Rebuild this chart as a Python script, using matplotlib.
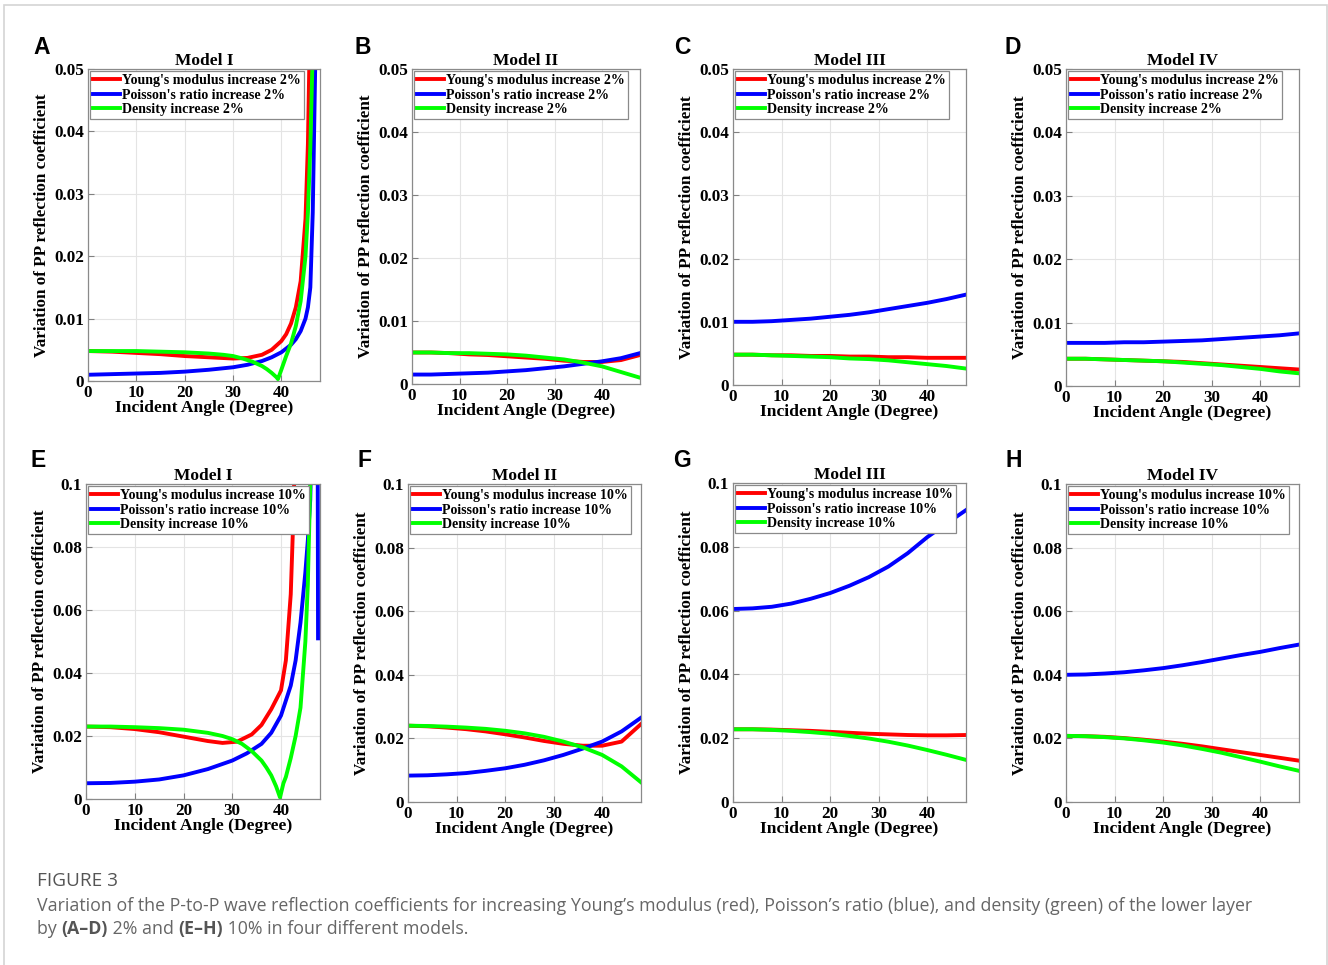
import matplotlib
matplotlib.use("Agg")
import matplotlib.pyplot as plt
from matplotlib.patches import Rectangle
from matplotlib.ticker import FuncFormatter

# ---- data ----
ang = [0, 4, 8, 12, 16, 20, 24, 28, 32, 36, 40, 44, 48]

# Model I, 2%
a_red_x = [0, 5, 10, 15, 20, 25, 30, 33, 36, 38, 40, 41, 42, 43, 44, 45, 45.5, 46, 46.5]
a_red = [0.0048, 0.0047, 0.0045, 0.0043, 0.0040, 0.0038, 0.0036, 0.0037, 0.0042, 0.0050,
         0.0064, 0.0075, 0.0092, 0.0118, 0.0160, 0.0260, 0.0380, 0.060, 0.09]
a_blue_x = [0, 5, 10, 15, 20, 25, 30, 33, 36, 38, 40, 42, 43, 44, 45, 45.5, 46, 46.5, 47, 47.5]
a_blue = [0.0010, 0.0011, 0.0012, 0.0013, 0.0015, 0.0018, 0.0022, 0.0026, 0.0032, 0.0038,
          0.0046, 0.0058, 0.0067, 0.0080, 0.0100, 0.0118, 0.0150, 0.0270, 0.050, 0.08]
a_green_x = [0, 5, 10, 15, 20, 25, 28, 30, 32, 34, 36, 37, 38, 39, 39.3, 40, 41, 42, 43, 44,
             45, 45.5, 46, 46.5]
a_green = [0.0048, 0.0048, 0.0048, 0.0047, 0.0046, 0.0044, 0.0042, 0.0040, 0.0036, 0.0031,
           0.0024, 0.0019, 0.0013, 0.0006, 0.0003, 0.0018, 0.0040, 0.0060, 0.0088, 0.0128,
           0.0200, 0.0270, 0.0376, 0.053]

# Model II, 2%
b_red = [0.0050, 0.0050, 0.0049, 0.0047, 0.0046, 0.0044, 0.0042, 0.0040, 0.0037, 0.0035, 0.0035, 0.0038, 0.0046]
b_blue = [0.0015, 0.0015, 0.0016, 0.0017, 0.0018, 0.0020, 0.0022, 0.0025, 0.0028, 0.0032, 0.0036, 0.0041, 0.0049]
b_green = [0.0050, 0.0050, 0.0049, 0.0049, 0.0048, 0.0047, 0.0045, 0.0042, 0.0039, 0.0034, 0.0028, 0.0019, 0.0010]

# Model III, 2%
c_red = [0.0048, 0.0048, 0.0047, 0.0047, 0.0046, 0.0046, 0.0045, 0.0045, 0.0044, 0.0044, 0.0043, 0.0043, 0.0043]
c_blue = [0.0100, 0.0100, 0.0101, 0.0103, 0.0105, 0.0108, 0.0111, 0.0115, 0.0120, 0.0125, 0.0130, 0.0136, 0.0143]
c_green = [0.0048, 0.0048, 0.0047, 0.0046, 0.0045, 0.0044, 0.0042, 0.0041, 0.0039, 0.0036, 0.0033, 0.0030, 0.0026]

# Model IV, 2%
d_red = [0.0043, 0.0043, 0.0042, 0.0041, 0.0040, 0.0039, 0.0038, 0.0036, 0.0034, 0.0032, 0.0030, 0.0028, 0.0026]
d_blue = [0.0068, 0.0068, 0.0068, 0.0069, 0.0069, 0.0070, 0.0071, 0.0072, 0.0074, 0.0076, 0.0078, 0.0080, 0.0083]
d_green = [0.0043, 0.0043, 0.0042, 0.0041, 0.0040, 0.0039, 0.0037, 0.0035, 0.0033, 0.0030, 0.0027, 0.0023, 0.0020]

# Model I, 10%
e_red_x = [0, 5, 10, 15, 20, 25, 28, 31, 34, 36, 38, 39, 40, 41, 42, 42.5, 43, 43.5]
e_red = [0.0230, 0.0228, 0.0222, 0.0212, 0.0198, 0.0184, 0.0178, 0.0182, 0.0205, 0.0235,
         0.0285, 0.0315, 0.0345, 0.0440, 0.0650, 0.0880, 0.1200, 0.16]
e_blue_x = [0, 5, 10, 15, 20, 25, 30, 33, 36, 38, 40, 42, 43, 44, 45, 45.5, 46, 46.5, 47.5, 47.6]
e_blue = [0.0050, 0.0051, 0.0055, 0.0062, 0.0075, 0.0095, 0.0122, 0.0145, 0.0175, 0.0210,
          0.0265, 0.0360, 0.0440, 0.0560, 0.0720, 0.0820, 0.0950, 0.1300, 0.1300, 0.0510]
e_green_x = [0, 5, 10, 15, 20, 25, 28, 30, 32, 34, 36, 37, 38, 39, 39.8, 40.5, 41, 42, 43, 44,
             45, 45.5, 46, 46.5]
e_green = [0.0230, 0.0230, 0.0228, 0.0225, 0.0220, 0.0210, 0.0200, 0.0190, 0.0175, 0.0152,
           0.0122, 0.0100, 0.0075, 0.0040, 0.0005, 0.0050, 0.0070, 0.0130, 0.0200, 0.0290,
           0.0500, 0.0680, 0.1000, 0.14]

# Model II, 10%
f_red = [0.0240, 0.0238, 0.0234, 0.0229, 0.0222, 0.0213, 0.0203, 0.0192, 0.0183, 0.0177, 0.0177, 0.0190, 0.0245]
f_blue = [0.0083, 0.0084, 0.0087, 0.0091, 0.0098, 0.0106, 0.0117, 0.0131, 0.0148, 0.0168, 0.0190, 0.0222, 0.0265]
f_green = [0.0240, 0.0239, 0.0237, 0.0234, 0.0230, 0.0224, 0.0216, 0.0205, 0.0190, 0.0172, 0.0148, 0.0112, 0.0062]

# Model III, 10%
g_red = [0.0228, 0.0228, 0.0227, 0.0225, 0.0223, 0.0220, 0.0217, 0.0214, 0.0212, 0.0210, 0.0209, 0.0209, 0.0210]
g_blue = [0.0605, 0.0607, 0.0612, 0.0622, 0.0637, 0.0655, 0.0678, 0.0705, 0.0738, 0.0780, 0.0830, 0.0873, 0.0915]
g_green = [0.0228, 0.0228, 0.0226, 0.0223, 0.0219, 0.0214, 0.0207, 0.0199, 0.0189, 0.0177, 0.0163, 0.0148, 0.0132]

# Model IV, 10%
h_red = [0.0208, 0.0207, 0.0205, 0.0201, 0.0196, 0.0190, 0.0183, 0.0175, 0.0166, 0.0157, 0.0148, 0.0139, 0.0130]
h_blue = [0.0400, 0.0401, 0.0404, 0.0408, 0.0414, 0.0421, 0.0430, 0.0440, 0.0451, 0.0462, 0.0472, 0.0484, 0.0495]
h_green = [0.0208, 0.0207, 0.0204, 0.0200, 0.0194, 0.0187, 0.0178, 0.0167, 0.0155, 0.0141, 0.0127, 0.0112, 0.0098]

models = ["Model I", "Model II", "Model III", "Model IV"]
letters = ["A", "B", "C", "D", "E", "F", "G", "H"]

panels = [
    (a_red_x, a_red, a_blue_x, a_blue, a_green_x, a_green),
    (ang, b_red, ang, b_blue, ang, b_green),
    (ang, c_red, ang, c_blue, ang, c_green),
    (ang, d_red, ang, d_blue, ang, d_green),
    (e_red_x, e_red, e_blue_x, e_blue, e_green_x, e_green),
    (ang, f_red, ang, f_blue, ang, f_green),
    (ang, g_red, ang, g_blue, ang, g_green),
    (ang, h_red, ang, h_blue, ang, h_green),
]

W, H = 1328, 965
# axes boxes in pixels: left, right, top, bottom
boxes = [(88, 320, 69, 381), (412, 640, 69, 384), (733, 966, 69, 385), (1066, 1299, 69, 386),
         (86, 320, 484, 799), (408, 641, 484, 802), (733, 966, 483, 802), (1066, 1299, 484, 802)]
letter_pos = [(42, 47), (363, 47), (682, 47), (1013, 47), (38, 461), (364, 461), (682, 461), (1014, 461)]

serif = "Liberation Serif"
fig = plt.figure(figsize=(W / 100, H / 100), dpi=100)

for i in range(8):
    l, r, t, b = boxes[i]
    ax = fig.add_axes([l / W, 1 - b / H, (r - l) / W, (b - t) / H])
    rx, ry, bx, by, gx, gy = panels[i]
    pct = "2%" if i < 4 else "10%"
    ax.plot(rx, ry, color=(1, 0, 0), lw=2.8, label="Young's modulus increase " + pct)
    ax.plot(bx, by, color=(0, 0, 1), lw=2.8, label="Poisson's ratio increase " + pct)
    ax.plot(gx, gy, color=(0, 1, 0), lw=2.8, label="Density increase " + pct)
    ax.set_xlim(0, 48)
    if i < 4:
        ax.set_ylim(0, 0.05)
        ax.set_yticks([0, 0.01, 0.02, 0.03, 0.04, 0.05])
    else:
        ax.set_ylim(0, 0.1)
        ax.set_yticks([0, 0.02, 0.04, 0.06, 0.08, 0.1])
    ax.set_xticks([0, 10, 20, 30, 40])
    ax.yaxis.set_major_formatter(FuncFormatter(lambda v, p: "%g" % round(v, 4)))
    ax.grid(True, color="#e4e4e4", lw=0.8)
    ax.set_axisbelow(True)
    ax.tick_params(direction="in", length=4, width=0.8, color="#808080", pad=3)
    for lab in ax.get_xticklabels() + ax.get_yticklabels():
        lab.set_fontfamily(serif)
        lab.set_fontweight("bold")
        lab.set_fontsize(12.3)
    for s in ax.spines.values():
        s.set_color("#8a8a8a")
        s.set_linewidth(0.9)
    ax.set_title(models[i % 4], fontfamily=serif, fontweight="bold", fontsize=12.5, pad=2)
    ax.set_xlabel("Incident Angle (Degree)", fontfamily=serif, fontweight="bold", fontsize=12.6, labelpad=-1)
    ax.set_ylabel("Variation of PP reflection coefficient", fontfamily=serif, fontweight="bold",
                  fontsize=12.3, labelpad=3)
    leg = ax.legend(loc="upper left", prop={"family": serif, "weight": "bold", "size": 10.1},
                    fancybox=False, framealpha=1, edgecolor="#8a8a8a", borderaxespad=0.15,
                    handlelength=1.9, handletextpad=0.2, labelspacing=0.12, borderpad=0.2)
    leg.get_frame().set_linewidth(0.9)
    lx, ly = letter_pos[i]
    fig.text(lx / W, 1 - ly / H, letters[i], fontfamily="Liberation Sans", fontweight="bold",
             fontsize=16.5, ha="center", va="center")

# outer frame
fig.patches.append(Rectangle((4 / W, -0.1), (1327 - 4) / W, 1.1 - 5 / H, transform=fig.transFigure,
                             fill=False, edgecolor="#d4d4d4", lw=1.2))

# caption
cap_font = "Open Sans"
fig.text(37 / W, 1 - 881 / H, "FIGURE 3", fontfamily=cap_font, fontsize=13.7, color="#555555",
         va="center", ha="left")
fig.text(37 / W, 1 - 906 / H,
         "Variation of the P-to-P wave reflection coefficients for increasing Young\u2019s modulus (red), "
         "Poisson\u2019s ratio (blue), and density (green) of the lower layer",
         fontfamily=cap_font, fontsize=12.8, color="#666666", va="center", ha="left")

renderer = fig.canvas.get_renderer()
pieces = [("by ", "normal"), ("(A\u2013D)", "bold"), (" 2% and ", "normal"), ("(E\u2013H)", "bold"),
          (" 10% in four different models.", "normal")]
xpix = 37
for txt, wt in pieces:
    t = fig.text(xpix / W, 1 - 929 / H, txt, fontfamily=cap_font, fontsize=12.8, fontweight=wt,
                 color="#666666" if wt == "normal" else "#555555", va="center", ha="left")
    bb = t.get_window_extent(renderer)
    xpix = bb.x1

fig.savefig("out.png", dpi=100)
